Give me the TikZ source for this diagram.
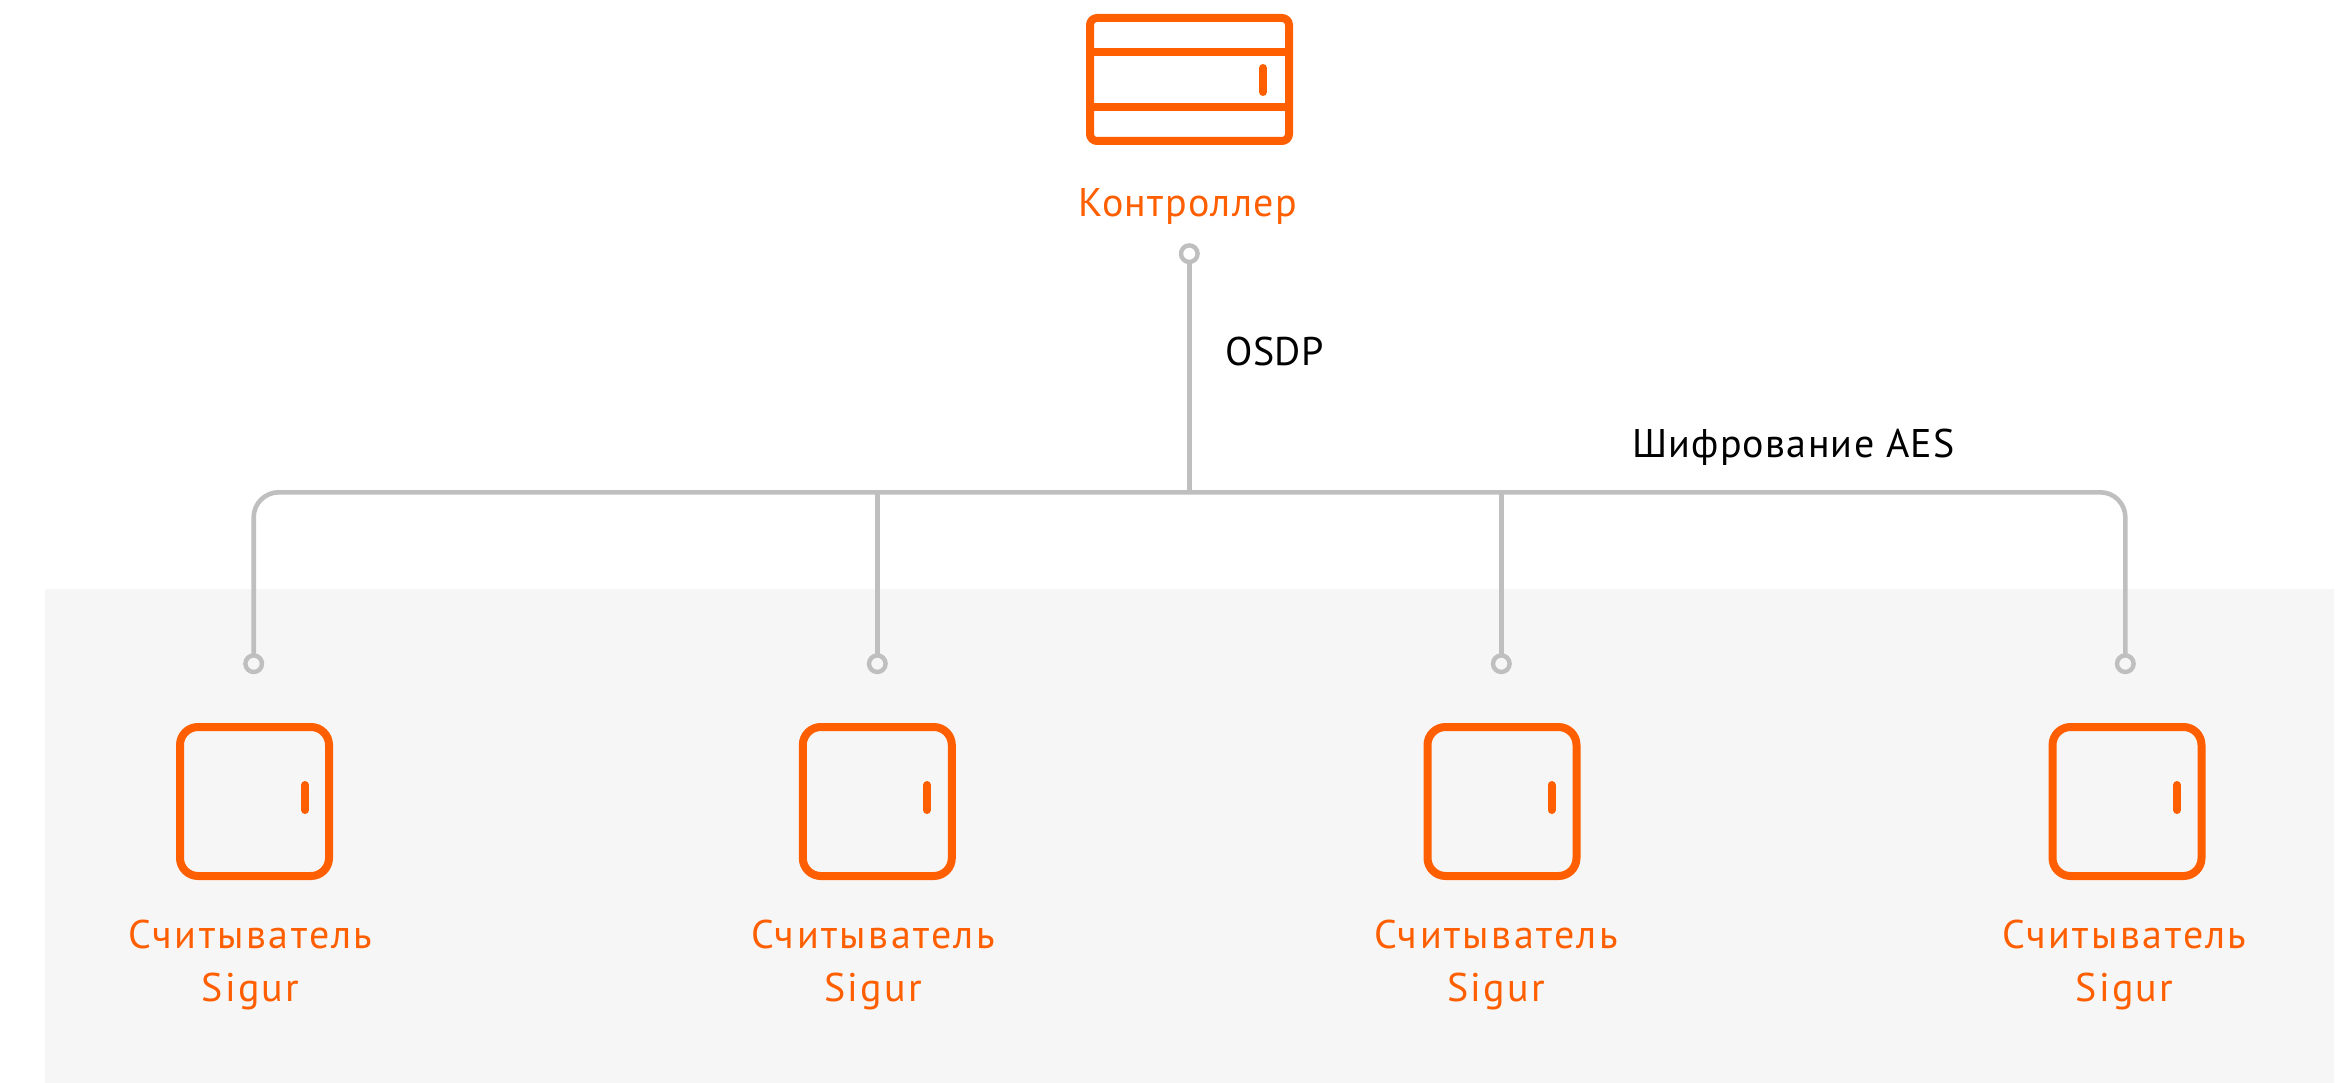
\documentclass[tikz,border=0pt]{standalone}
\usepackage{fontspec}
\setmainfont{PT Sans}
\definecolor{accent}{HTML}{FF5F00}
\definecolor{wirecol}{HTML}{BFBFBF}
\definecolor{panel}{HTML}{F6F6F6}
\tikzset{
  icon/.style={draw=accent,line width=8pt,rounded corners=#1,outer sep=0pt,inner sep=0pt},
  readerbox/.style={icon=18pt,minimum width=149pt,minimum height=149pt},
  ctrlbox/.style={icon=7pt,minimum width=199pt,minimum height=123pt},
  led/.style={draw=accent,line width=8pt,line cap=round},
  bar/.style={draw=accent,line width=8pt},
  wire/.style={draw=wirecol,line width=4.6pt},
  pin/.style={circle,draw=wirecol,line width=4.4pt,minimum size=16.6pt,inner sep=0pt,outer sep=0pt},
  orangetxt/.style={text=accent,font=\fontsize{40}{40}\selectfont\addfontfeatures{LetterSpace=#1},anchor=base,inner sep=0pt},
  blacktxt/.style={text=black,font=\fontsize{40}{40}\selectfont\addfontfeatures{LetterSpace=#1},anchor=base,inner sep=0pt},
}
\begin{document}
\begin{tikzpicture}[x=1pt,y=-1pt]
\useasboundingbox (0,0) rectangle (2346,1083);
\fill[panel] (45,589) rectangle (2334,1083);
% controller
\node[ctrlbox] (ctrl) at (1189.5,79.5) {};
\coordinate (ba1) at (ctrl.west |- 0,52);
\coordinate (ba2) at (ctrl.east |- 0,52);
\coordinate (bb1) at (ctrl.west |- 0,107);
\coordinate (bb2) at (ctrl.east |- 0,107);
\draw[bar] (ba1) -- (ba2);
\draw[bar] (bb1) -- (bb2);
\coordinate (cl1) at (1263,68);
\coordinate (cl2) at (1263,92);
\draw[led] (cl1) -- (cl2);
\node[orangetxt=3.4] (ctrltxt) at (1188,217) {Контроллер};
\node[pin] (pc) at (1189.3,253.7) {};
\coordinate (hub) at (1189.3,492.3);
\draw[wire] (pc.south) -- (hub);
\node[blacktxt=1.5] (osdp) at (1274.5,366) {OSDP};
\node[blacktxt=3.2] (aes) at (1793.5,457) {Шифрование AES};
% pins
\node[pin] (p1) at (253.7,663.7) {};
\node[pin] (p2) at (877.3,663.7) {};
\node[pin] (p3) at (1501.3,663.7) {};
\node[pin] (p4) at (2125.3,663.7) {};
\draw[wire,rounded corners=25pt] (p1.north) -- (p1.north |- hub) -- (p4.north |- hub) -- (p4.north);
\draw[wire] (p2.north) -- (p2.north |- hub);
\draw[wire] (p3.north) -- (p3.north |- hub);
% readers
\foreach \n/\bx/\lx/\tx in {1/254.5/305/250.6,2/877.3/927/873,3/1502/1551.5/1496,4/2127/2177/2124.5}{
  \node[readerbox] (r\n) at (\bx,801.5) {};
  \coordinate (l\n a) at (\lx,785);
  \coordinate (l\n b) at (\lx,810);
  \draw[led] (l\n a) -- (l\n b);
  \node[orangetxt=6.4] (t\n a) at (\tx,948) {Считыватель};
  \node[orangetxt=5.5] (t\n b) at (\tx,1001.5) {Sigur};
}
\end{tikzpicture}
\end{document}
